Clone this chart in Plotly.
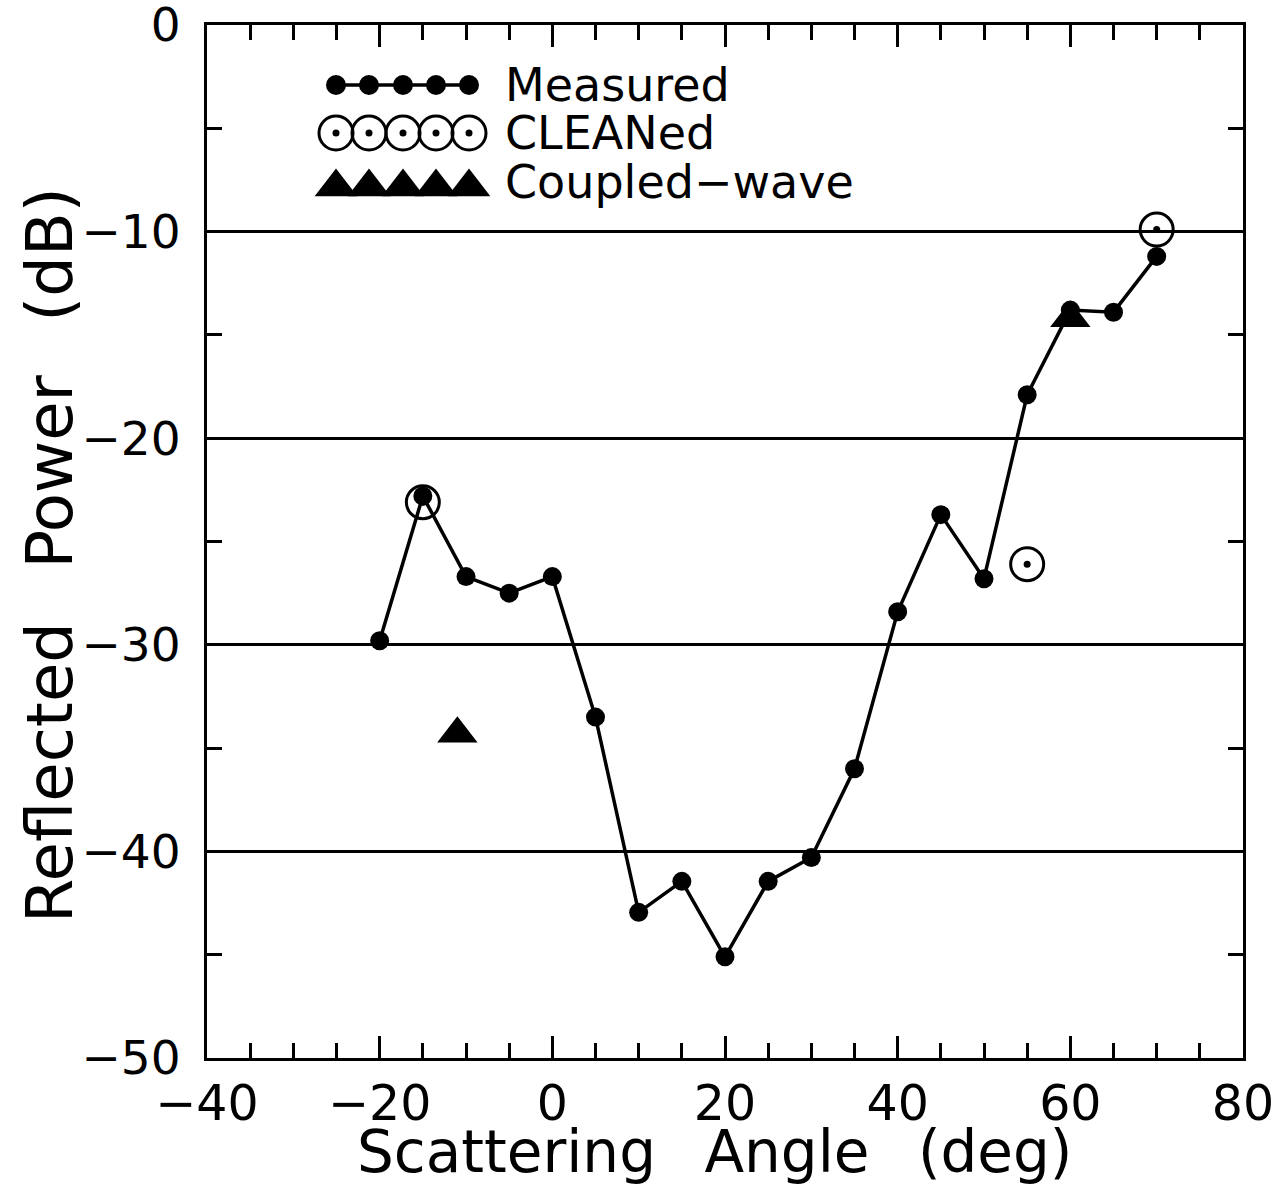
import plotly.graph_objects as go

# ---------------- data ----------------
meas_angle = [-20, -15, -10, -5, 0, 5, 10, 15, 20, 25, 30, 35, 40, 45, 50, 55, 60, 65, 70]
meas_power = [-29.8, -22.8, -26.7, -27.5, -26.7, -33.5, -42.95, -41.45, -45.1, -41.45,
              -40.3, -36.0, -28.4, -23.7, -26.8, -17.9, -13.8, -13.9, -11.2]

clean_angle = [-15, 55, 70]
clean_power = [-23.1, -26.1, -9.9]

cw_angle = [-11, 60]
cw_power = [-34.3, -14.2]

x_ticks = [-40, -20, 0, 20, 40, 60, 80]
y_ticks = [0, -10, -20, -30, -40, -50]

legend_labels = ["Measured", "CLEANed", "Coupled\u2212wave"]

# ---------------- layout constants ----------------
W, H = 1286, 1188
ML, MR, MT, MB = 207, 43, 25, 130
PW, PH = W - ML - MR, H - MT - MB
FONT = "DejaVu Sans"
BLACK = "#000000"
GAP = "\u00a0\u00a0\u2009"


def fx(px):
    return (px - ML) / PW


def fy(py):
    return 1 - (py - MT) / PH


fig = go.Figure()

# measured
fig.add_trace(go.Scatter(
    x=meas_angle, y=meas_power, mode="lines+markers",
    line=dict(color=BLACK, width=3.5),
    marker=dict(symbol="circle", size=19, color=BLACK),
    showlegend=False, name=legend_labels[0]))

# CLEANed: open circles with centre dot
fig.add_trace(go.Scatter(
    x=clean_angle, y=clean_power, mode="markers",
    marker=dict(symbol="circle-open", size=33, color=BLACK, line=dict(width=3, color=BLACK)),
    showlegend=False, name=legend_labels[1]))
fig.add_trace(go.Scatter(
    x=clean_angle, y=clean_power, mode="markers",
    marker=dict(symbol="circle", size=7, color=BLACK),
    showlegend=False, hoverinfo="skip"))

# coupled-wave
fig.add_trace(go.Scatter(
    x=cw_angle, y=cw_power, mode="markers",
    marker=dict(symbol="triangle-up", size=35, color=BLACK),
    showlegend=False, name=legend_labels[2]))

# ---------------- hand-drawn style legend (overlay axes in plot fractions) ----------------
sample_px = [336, 369, 403, 436, 469]
sx = [fx(p) for p in sample_px]
row_px = [85, 133, 187]

fig.add_trace(go.Scatter(
    x=sx, y=[fy(row_px[0])] * 5, xaxis="x2", yaxis="y2", mode="lines+markers",
    line=dict(color=BLACK, width=3.5), marker=dict(symbol="circle", size=20, color=BLACK),
    showlegend=False, hoverinfo="skip"))
fig.add_trace(go.Scatter(
    x=sx, y=[fy(row_px[1])] * 5, xaxis="x2", yaxis="y2", mode="markers",
    marker=dict(symbol="circle-open", size=34, color=BLACK, line=dict(width=3, color=BLACK)),
    showlegend=False, hoverinfo="skip"))
fig.add_trace(go.Scatter(
    x=sx, y=[fy(row_px[1])] * 5, xaxis="x2", yaxis="y2", mode="markers",
    marker=dict(symbol="circle", size=7, color=BLACK),
    showlegend=False, hoverinfo="skip"))
fig.add_trace(go.Scatter(
    x=sx, y=[fy(row_px[2])] * 5, xaxis="x2", yaxis="y2", mode="markers",
    marker=dict(symbol="triangle-up", size=37, color=BLACK),
    showlegend=False, hoverinfo="skip"))

annotations = []
for lab, ry in zip(legend_labels, [85, 133, 182]):
    annotations.append(dict(
        x=fx(503), y=fy(ry), xref="paper", yref="paper", text=lab, showarrow=False,
        xanchor="left", yanchor="middle", font=dict(family=FONT, size=46, color=BLACK)))

# axis titles
annotations.append(dict(
    x=fx(714), y=fy(1152), xref="paper", yref="paper",
    text="Scattering" + GAP + "Angle" + GAP + "(deg)", showarrow=False,
    xanchor="center", yanchor="middle", font=dict(family=FONT, size=58, color=BLACK)))
annotations.append(dict(
    x=fx(50), y=fy(555), xref="paper", yref="paper",
    text="Reflected" + GAP + "Power" + GAP + "(dB)", showarrow=False, textangle=-90,
    xanchor="center", yanchor="middle", font=dict(family=FONT, size=64, color=BLACK)))

axis_common = dict(
    showline=True, linecolor=BLACK, linewidth=3, mirror="ticks",
    ticks="inside", tickcolor=BLACK, tickwidth=2.5, zeroline=False,
    ticklabeloverflow="allow", automargin=False,
)

fig.update_layout(
    width=W, height=H, margin=dict(l=ML, r=MR, t=MT, b=MB, autoexpand=False),
    paper_bgcolor="white", plot_bgcolor="white",
    xaxis=dict(range=[-40, 80], tickvals=x_ticks, ticklen=22,
               minor=dict(dtick=5, ticks="inside", ticklen=15, tickcolor=BLACK, tickwidth=2.5),
               showgrid=False, ticklabelstandoff=0,
               tickfont=dict(family=FONT, size=49, color=BLACK), **axis_common),
    yaxis=dict(range=[-50, 0], tickvals=y_ticks, ticklen=15,
               minor=dict(dtick=5, ticks="inside", ticklen=15, tickcolor=BLACK, tickwidth=2.5),
               showgrid=True, gridcolor=BLACK, gridwidth=2.5, ticklabelstandoff=14,
               tickfont=dict(family=FONT, size=47, color=BLACK), **axis_common),
    xaxis2=dict(range=[0, 1], overlaying="x", visible=False, fixedrange=True),
    yaxis2=dict(range=[0, 1], overlaying="y", visible=False, fixedrange=True),
    annotations=annotations,
    showlegend=False,
)

fig.write_html("out.html")
